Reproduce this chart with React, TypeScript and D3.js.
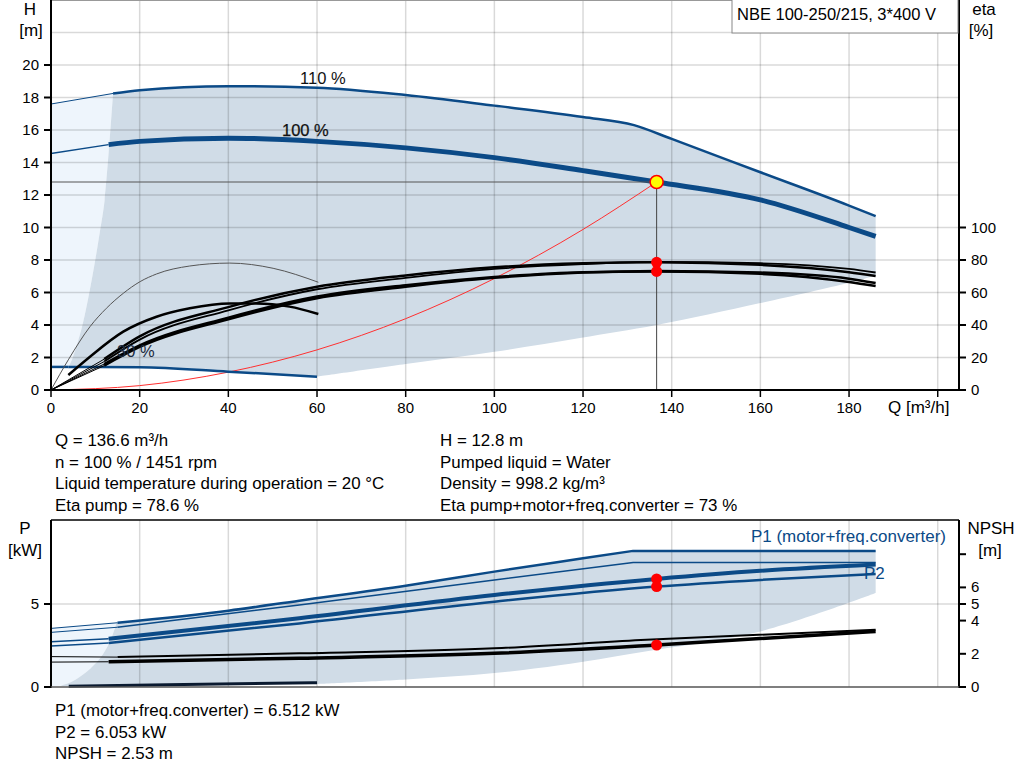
import * as d3 from "d3";

const W = 1024;
const HGT = 781;
const LEFT = 51;
const RIGHT = 959;
const TOP1 = 0;
const BOTTOM1 = 390;
const TOP2 = 520;
const BOTTOM2 = 687;

const BLUE = "#0b4a87";
const SHADE = "#d0dce7";
const LIGHT = "#eef5fc";
const FONT = "'Liberation Sans', Arial, sans-serif";

// Axis ticks
const Q_TICKS = [0, 20, 40, 60, 80, 100, 120, 140, 160, 180, 200];
const Q_LABELS = ["0", "20", "40", "60", "80", "100", "120", "140", "160", "180", ""];
const H_TICKS = [0, 2, 4, 6, 8, 10, 12, 14, 16, 18, 20];
const H_GRID = [2, 4, 6, 8, 10, 12, 14, 16, 18, 20, 22];
const ETA_TICKS = [0, 20, 40, 60, 80, 100];
const P_TICKS = [0, 5];
const NPSH_TICKS = [0, 2, 4, 5, 6, 8];
const NPSH_LABELS = ["0", "2", "4", "5", "6", ""];

// QH curves
const H110_Q = [0, 14, 20, 40, 60, 80, 100, 120, 131.5, 140, 160, 180, 186];
const H110 = [17.6, 18.25, 18.45, 18.7, 18.6, 18.15, 17.5, 16.8, 16.3, 15.45, 13.4, 11.35, 10.7];
const H100_Q = [0, 13, 20, 40, 60, 80, 100, 120, 136.6, 160, 180, 186];
const H100 = [14.55, 15.1, 15.3, 15.5, 15.3, 14.9, 14.3, 13.5, 12.8, 11.7, 10.0, 9.45];
const H30_Q = [0, 3.9, 20, 40, 60];
const H30 = [1.42, 1.42, 1.4, 1.13, 0.82];

// operating range boundaries (QH)
const MINF_H_Q = [14, 12.1, 11, 9.2, 7, 4.7, 3.9];
const MINF_H = [18.25, 11.7, 9.7, 6.8, 3.9, 1.85, 1.4];
const LOW_H_Q = [60, 80, 100, 119.3, 136.6, 160, 180, 186];
const LOW_H = [0.82, 1.6, 2.35, 3.2, 4.0, 5.35, 6.6, 7.05];

// system curve
const SYS_Q = [0, 20, 40, 60, 80, 100, 120, 136.6];
const SYS_H = [0, 0.27, 1.1, 2.47, 4.39, 6.86, 9.88, 12.8];

// efficiency curves [%]
const ETA_Q = [0, 12, 20, 40, 60, 80, 100, 120, 136.6, 160, 180, 186];
const ETA_PUMP100 = [0, 19, 33, 51, 63.5, 70.5, 75.5, 78, 78.6, 77, 72.5, 70.2];
const ETA_PUMP110 = [0, 17.5, 31, 49, 62, 69, 74.5, 77.5, 78.8, 78, 74.5, 72.3];
const ETA_TOT100 = [0, 16, 27.5, 44.5, 57.5, 64.5, 69.5, 72.5, 73, 71.5, 66.5, 64];
const ETA_TOT110 = [0, 15, 26.5, 43.5, 56.5, 63.5, 69, 72.3, 73.3, 72.3, 68.5, 65.8];
const ETA30_Q = [0, 4, 8.8, 12.5, 16.3, 20.1, 23.8, 31.3, 40.3, 50.1, 60.3];
const ETA30_PUMP = [0, 19, 39, 50.3, 59.5, 66.7, 71.4, 76.3, 78.1, 74.9, 66.3];
const ETA30_TOT_Q = [3.9, 8.8, 16.3, 23.8, 31.3, 40.3, 46.3, 53.8, 60.3];
const ETA30_TOT = [9.2, 20.5, 35.9, 45.1, 50.3, 53.3, 53.3, 51.3, 46.8];

// power curves [kW]
const P1_110_Q = [0, 15, 40, 56, 80, 100, 120, 131.3, 186];
const P1_110 = [3.53, 3.87, 4.6, 5.2, 6.1, 6.95, 7.75, 8.2, 8.2];
const P2_110_Q = [0, 15, 56, 100, 131.3, 186];
const P2_110 = [3.29, 3.6, 4.94, 6.45, 7.5, 7.5];
const P100_Q = [0, 13, 56, 100, 136.6, 160, 186];
const P1_100 = [2.73, 2.9, 4.14, 5.54, 6.51, 7.0, 7.38];
const P2_100 = [2.47, 2.65, 3.83, 5.14, 6.05, 6.45, 6.8];
const P30_Q = [4, 30, 60];
const P30 = [0.05, 0.15, 0.26];

// NPSH curves [m]
const NPSH_UP_Q = [0, 15, 56, 100, 133, 186];
const NPSH_UP = [1.83, 1.8, 2.03, 2.33, 2.83, 3.45];
const NPSH_LO_Q = [0, 13, 56, 100, 136.6, 186];
const NPSH_LO = [1.5, 1.52, 1.73, 2.03, 2.53, 3.35];

// operating range boundaries (power)
const MINF_P_Q = [14.8, 13.3, 11.05, 8.05, 4.67, 2.03];
const MINF_P = [3.87, 2.73, 1.73, 0.92, 0.32, 0.08];
const LOW_P_Q = [60, 80, 100, 115, 133, 160, 186];
const LOW_P = [0.18, 0.45, 0.84, 1.33, 2.1, 3.35, 5.66];

// duty point
const DUTY_Q = 136.6;
const DUTY_H = 12.8;
const DUTY_ETA = [78.6, 73];
const DUTY_P = [6.512, 6.053];
const DUTY_NPSH = 2.53;

const INFO_LEFT = [
  "Q = 136.6 m³/h",
  "n = 100 % / 1451 rpm",
  "Liquid temperature during operation = 20 °C",
  "Eta pump = 78.6 %",
];
const INFO_RIGHT = [
  "H = 12.8 m",
  "Pumped liquid = Water",
  "Density = 998.2 kg/m³",
  "Eta pump+motor+freq.converter = 73 %",
];
const INFO_BOTTOM = [
  "P1 (motor+freq.converter) = 6.512 kW",
  "P2 = 6.053 kW",
  "NPSH = 2.53 m",
];

const x = d3.scaleLinear().domain([0, 204.8]).range([LEFT, RIGHT]);
const yH = d3.scaleLinear().domain([0, 24]).range([BOTTOM1, TOP1]);
const yEta = d3.scaleLinear().domain([0, 240]).range([BOTTOM1, TOP1]);
const yP = d3.scaleLinear().domain([0, 10.06]).range([BOTTOM2, TOP2]);

type Pt = [number, number];
type Y = d3.ScaleLinear<number, number>;

const zip = (qs: number[], vs: number[]): Pt[] => qs.map((q, i) => [q, vs[i]]);

const path = (pts: Pt[], y: Y, curve: d3.CurveFactory = d3.curveMonotoneX) =>
  d3.line<Pt>().x((d) => x(d[0])).y((d) => y(d[1])).curve(curve)(pts) || "";

const area = (y: Y, ...parts: Pt[][]) =>
  parts
    .map((p, i) => {
      const s = path(p, y, d3.curveCatmullRom);
      return i ? s.replace(/^M/, "L") : s;
    })
    .join("") + "Z";

// curve with a thin start segment (outside recommended range) and a thick rest;
// optional straight tail after index `flatFrom`
function Curve({ qs, vs, y, color, w, thinW = 1, flatFrom }: { qs: number[]; vs: number[]; y: Y; color: string; w: number; thinW?: number; flatFrom?: number }) {
  const pts = zip(qs, vs);
  const end = flatFrom ?? pts.length - 1;
  const d = path(pts.slice(1, end + 1), y) + (flatFrom ? path(pts.slice(end), y, d3.curveLinear).replace(/^M/, "L") : "");
  return (
    <g fill="none" stroke={color}>
      <path d={path(pts.slice(0, 2), y, d3.curveLinear)} strokeWidth={thinW} />
      <path d={d} strokeWidth={w} strokeLinejoin="round" />
    </g>
  );
}

function TopChart() {
  const h110 = zip(H110_Q, H110);
  const h30 = zip(H30_Q, H30);
  const minf = zip(MINF_H_Q, MINF_H);
  const low = zip(LOW_H_Q, LOW_H);
  const dark = area(yH, h110.slice(1), low.slice().reverse(), h30.slice(1).reverse(), minf.slice().reverse());
  const light = area(yH, h110.slice(0, 2), minf, h30.slice(0, 2).reverse());
  const dx = x(DUTY_Q);
  const dy = yH(DUTY_H);
  return (
    <g>
      <path d={light} fill={LIGHT} />
      <path d={dark} fill={SHADE} />
      {/* grid */}
      <g stroke="rgba(0,0,0,0.15)" strokeWidth={1.5}>
        {Q_TICKS.slice(1).map((q) => (
          <line key={q} x1={x(q)} x2={x(q)} y1={TOP1} y2={BOTTOM1} />
        ))}
        {H_GRID.map((h) => (
          <line key={h} x1={LEFT} x2={RIGHT} y1={yH(h)} y2={yH(h)} />
        ))}
      </g>
      <line x1={LEFT} x2={RIGHT} y1={TOP1 + 0.5} y2={TOP1 + 0.5} stroke="#999" />
      {/* system curve */}
      <path d={path(zip(SYS_Q, SYS_H), yH)} fill="none" stroke="#ff3030" strokeWidth={1} />
      {/* QH curves */}
      <Curve qs={H110_Q} vs={H110} y={yH} color={BLUE} w={2.5} thinW={1} />
      <Curve qs={H100_Q} vs={H100} y={yH} color={BLUE} w={5} thinW={1.5} />
      <Curve qs={H30_Q} vs={H30} y={yH} color={BLUE} w={2.5} thinW={2.5} />
      {/* efficiency curves */}
      <path d={path(zip(ETA30_Q, ETA30_PUMP), yEta)} fill="none" stroke="#555" strokeWidth={1} />
      <path d={path(zip(ETA30_TOT_Q, ETA30_TOT), yEta)} fill="none" stroke="#000" strokeWidth={2.5} />
      <Curve qs={ETA_Q} vs={ETA_PUMP110} y={yEta} color="#000" w={1.8} />
      <Curve qs={ETA_Q} vs={ETA_PUMP100} y={yEta} color="#000" w={2.5} />
      <Curve qs={ETA_Q} vs={ETA_TOT110} y={yEta} color="#000" w={2.5} />
      <Curve qs={ETA_Q} vs={ETA_TOT100} y={yEta} color="#000" w={2.5} />
      {/* duty point lines */}
      <line x1={LEFT} x2={dx} y1={dy} y2={dy} stroke="#555" strokeWidth={1} />
      <line x1={dx} x2={dx} y1={dy} y2={BOTTOM1} stroke="#444" strokeWidth={1} />
      {DUTY_ETA.map((e) => (
        <circle key={e} cx={dx} cy={yEta(e)} r={5.5} fill="#ff0000" />
      ))}
      <circle cx={dx} cy={dy} r={6.5} fill="#ffff00" stroke="#ff0000" strokeWidth={1.5} />
      {/* curve labels */}
      <g fontFamily={FONT} fontSize={16.5} fill="#111">
        <text x={300} y={84}>110 %</text>
        <text x={282} y={136} stroke="#111" strokeWidth={0.25}>100 %</text>
        <text x={117} y={357} fill="#1a2a40">30 %</text>
      </g>
      {/* axes */}
      <g stroke="#000" strokeWidth={2}>
        <line x1={LEFT} x2={LEFT} y1={TOP1} y2={BOTTOM1 + 1} />
        <line x1={RIGHT} x2={RIGHT} y1={TOP1} y2={BOTTOM1 + 1} />
        <line x1={LEFT - 1} x2={RIGHT + 1} y1={BOTTOM1} y2={BOTTOM1} />
        {H_TICKS.map((h) => (
          <line key={h} x1={LEFT - 7} x2={LEFT} y1={yH(h)} y2={yH(h)} />
        ))}
        {ETA_TICKS.map((e) => (
          <line key={e} x1={RIGHT} x2={RIGHT + 7} y1={yEta(e)} y2={yEta(e)} />
        ))}
        {Q_TICKS.map((q) => (
          <line key={q} x1={x(q)} x2={x(q)} y1={BOTTOM1} y2={BOTTOM1 + 7} strokeWidth={1.5} />
        ))}
      </g>
      <g fontFamily={FONT} fontSize={15} fill="#000">
        {H_TICKS.map((h) => (
          <text key={h} x={LEFT - 12} y={yH(h) + 5} textAnchor="end">{h}</text>
        ))}
        {ETA_TICKS.map((e) => (
          <text key={e} x={RIGHT + 12} y={yEta(e) + 5}>{e}</text>
        ))}
        {Q_TICKS.map((q, i) => (
          <text key={q} x={x(q)} y={BOTTOM1 + 23} textAnchor="middle">{Q_LABELS[i]}</text>
        ))}
      </g>
      <g fontFamily={FONT} fontSize={17} fill="#000">
        <text x={888} y={BOTTOM1 + 23}>Q [m³/h]</text>
        <text x={30} y={15} textAnchor="middle">H</text>
        <text x={31} y={36} textAnchor="middle">[m]</text>
        <text x={984} y={15} textAnchor="middle">eta</text>
        <text x={981} y={36} textAnchor="middle">[%]</text>
      </g>
      {/* title box */}
      <rect x={732} y={-1} width={226} height={34} fill="#fff" stroke="#888" strokeWidth={1} />
      <text x={737} y={20} fontFamily={FONT} fontSize={16.5}>NBE 100-250/215, 3*400 V</text>
    </g>
  );
}

function BottomChart() {
  const p1 = zip(P1_110_Q, P1_110);
  const p30 = zip(P30_Q, P30);
  const minf = zip(MINF_P_Q, MINF_P);
  const low = zip(LOW_P_Q, LOW_P);
  const top = path(p1.slice(1, 8), yP) + path(p1.slice(7), yP, d3.curveLinear).replace(/^M/, "L");
  const rest = area(yP, low.slice().reverse(), p30.slice().reverse(), minf.slice().reverse()).replace(/^M/, "L");
  const dark = top + rest;
  const light = area(yP, p1.slice(0, 2), minf, [[0, 0.05]]);
  const dx = x(DUTY_Q);
  return (
    <g>
      <path d={light} fill={LIGHT} />
      <path d={dark} fill={SHADE} />
      <g stroke="rgba(0,0,0,0.15)" strokeWidth={1.5}>
        {Q_TICKS.slice(1).map((q) => (
          <line key={q} x1={x(q)} x2={x(q)} y1={TOP2} y2={BOTTOM2} />
        ))}
        <line x1={LEFT} x2={RIGHT} y1={yP(5)} y2={yP(5)} />
      </g>
      {/* power curves */}
      <Curve qs={P1_110_Q} vs={P1_110} y={yP} color={BLUE} w={2.5} flatFrom={7} />
      <Curve qs={P2_110_Q} vs={P2_110} y={yP} color={BLUE} w={1.5} flatFrom={4} />
      <Curve qs={P100_Q} vs={P1_100} y={yP} color={BLUE} w={4} thinW={1.5} />
      <Curve qs={P100_Q} vs={P2_100} y={yP} color={BLUE} w={2.5} thinW={1.5} />
      {/* NPSH curves */}
      <Curve qs={NPSH_UP_Q} vs={NPSH_UP} y={yP} color="#000" w={2} />
      <Curve qs={NPSH_LO_Q} vs={NPSH_LO} y={yP} color="#000" w={3.5} />
      <path d={path(p30, yP)} fill="none" stroke="#0a1a30" strokeWidth={3} />
      {DUTY_P.map((p) => (
        <circle key={p} cx={dx} cy={yP(p)} r={5.5} fill="#ff0000" />
      ))}
      <circle cx={dx} cy={yP(DUTY_NPSH)} r={5.5} fill="#ff0000" />
      <g fontFamily={FONT} fontSize={17} fill={BLUE}>
        <text x={946} y={542} textAnchor="end">P1 (motor+freq.converter)</text>
        <text x={864} y={579}>P2</text>
      </g>
      {/* axes */}
      <g stroke="#000" strokeWidth={2}>
        <line x1={LEFT} x2={RIGHT} y1={TOP2} y2={TOP2} strokeWidth={1.5} />
        <line x1={LEFT} x2={LEFT} y1={TOP2} y2={BOTTOM2 + 1} />
        <line x1={RIGHT} x2={RIGHT} y1={TOP2} y2={BOTTOM2 + 1} />
        <line x1={LEFT} x2={RIGHT} y1={BOTTOM2} y2={BOTTOM2} stroke="#555" strokeWidth={1.5} />
        {P_TICKS.map((p) => (
          <line key={p} x1={LEFT - 7} x2={LEFT} y1={yP(p)} y2={yP(p)} />
        ))}
        {NPSH_TICKS.map((n) => (
          <line key={n} x1={RIGHT} x2={RIGHT + 7} y1={yP(n)} y2={yP(n)} />
        ))}
      </g>
      <g fontFamily={FONT} fontSize={15} fill="#000">
        {P_TICKS.map((p) => (
          <text key={p} x={LEFT - 12} y={yP(p) + 5} textAnchor="end">{p}</text>
        ))}
        {NPSH_TICKS.map((n, i) => (
          <text key={n} x={RIGHT + 12} y={yP(n) + 5}>{NPSH_LABELS[i]}</text>
        ))}
      </g>
      <g fontFamily={FONT} fontSize={17} fill="#000">
        <text x={25} y={534} textAnchor="middle">P</text>
        <text x={25} y={556} textAnchor="middle">[kW]</text>
        <text x={991} y={534} textAnchor="middle">NPSH</text>
        <text x={990} y={556} textAnchor="middle">[m]</text>
      </g>
    </g>
  );
}

export default function App() {
  return (
    <svg
      width={W}
      height={HGT}
      viewBox={`0 0 ${W} ${HGT}`}
      style={{ position: "absolute", left: 0, top: 0, background: "#fff" }}
    >
      <rect width={W} height={HGT} fill="#fff" />
      <TopChart />
      <BottomChart />
      <g fontFamily={FONT} fontSize={16.9} fill="#000">
        {INFO_LEFT.map((t, i) => (
          <text key={t} x={55} y={446 + i * 21.6}>{t}</text>
        ))}
        {INFO_RIGHT.map((t, i) => (
          <text key={t} x={440} y={446 + i * 21.6}>{t}</text>
        ))}
        {INFO_BOTTOM.map((t, i) => (
          <text key={t} x={55} y={716 + i * 21.6}>{t}</text>
        ))}
      </g>
    </svg>
  );
}
